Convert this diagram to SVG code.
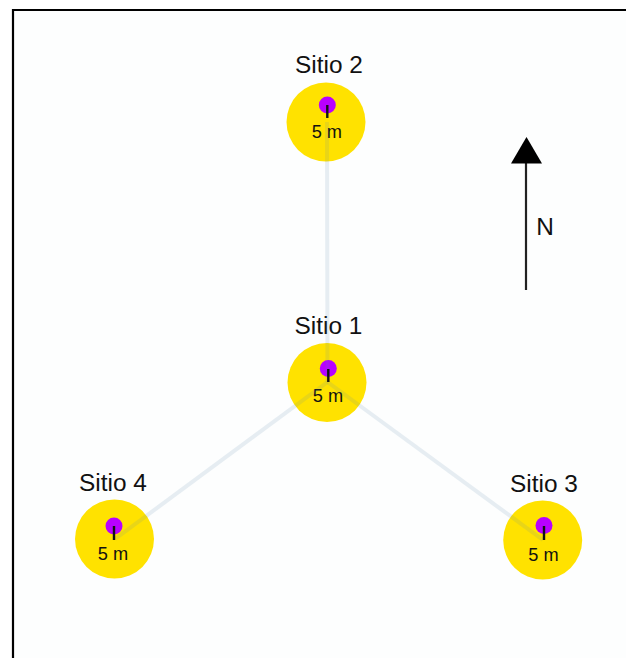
<svg xmlns="http://www.w3.org/2000/svg" width="626" height="658" viewBox="0 0 626 658">
<style>
.site{fill:#ffe200}
.dot{fill:#b800ff}
.tick{stroke:#111;stroke-width:2.4}
.link{stroke:#5f86ad;stroke-opacity:.14;stroke-width:4;fill:none}
text{font-family:"Liberation Sans",Arial,sans-serif;fill:#111;text-anchor:middle}
.t{font-size:24.4px}
.m{font-size:18.2px}
</style>
<rect width="626" height="658" fill="#fff"/>
<rect x="13" y="10" width="613" height="648" fill="#fdfefe"/>
<path d="M13 658V10H626" fill="none" stroke="#000" stroke-width="2.2"/>
<g id="n2"><circle class="site" cx="326" cy="122" r="39.5"/><circle class="dot" cx="327.3" cy="105" r="8.5"/><text class="t" x="329" y="73">Sitio 2</text><text class="m" x="326.800" y="138">5 m</text></g>
<g id="n1"><circle class="site" cx="327" cy="382.5" r="39.5"/><circle class="dot" cx="328.3" cy="368.5" r="8.5"/><text class="t" x="328.500" y="334">Sitio 1</text><text class="m" x="328" y="402">5 m</text></g>
<g id="n3"><circle class="site" cx="542.7" cy="540" r="39.5"/><circle class="dot" cx="544" cy="525.5" r="8.5"/><text class="t" x="544" y="492">Sitio 3</text><text class="m" x="543.500" y="561">5 m</text></g>
<g id="n4"><circle class="site" cx="114.5" cy="539" r="39.5"/><circle class="dot" cx="114" cy="526" r="8.5"/><text class="t" x="113" y="491">Sitio 4</text><text class="m" x="113" y="560">5 m</text></g>
<g id="connectors">
<path class="link" d="M327 122L327.5 382"/>
<path class="link" d="M327.5 382L115 539"/>
<path class="link" d="M327.5 382L543 540"/>
<path class="tick" d="M327.3 105V118M328.3 369V382M544 526V540M114 526V540"/>
</g>
<g id="north">
<path d="M526 290V160" stroke="#222" stroke-width="2.2" fill="none"/>
<path d="M526.5 137L542 163.500H511Z" fill="#000"/>
<text class="t" x="545" y="235">N</text>
</g>
</svg>
